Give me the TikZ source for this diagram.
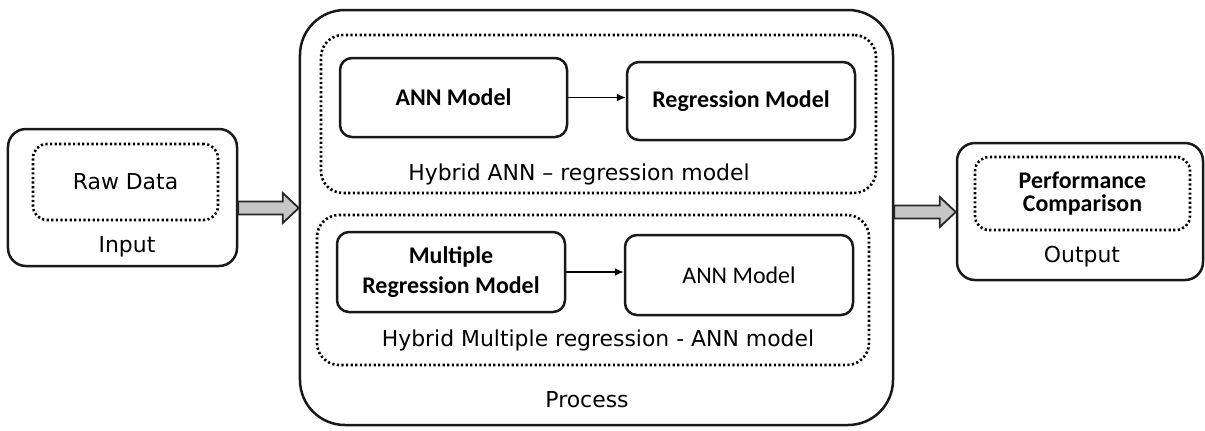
\documentclass[tikz,border=0pt]{standalone}
\usepackage{fontspec}
\setmainfont{DejaVu Sans}
\newfontfamily\calibfont{Carlito}
\usetikzlibrary{calc,arrows.meta}
\begin{document}
\begin{tikzpicture}[x=1bp,y=-1bp,
  solidbox/.style={draw=black!90, line width=2.5bp, rounded corners=#1, inner sep=0pt},
  solidbox/.default=12bp,
  dotbox/.style={draw=black, line width=2.6bp, dash pattern=on 2.2bp off 2.4bp, rounded corners=#1, inner sep=0pt},
  dotbox/.default=20bp,
  plain/.style={font=\fontsize{22}{26}\selectfont, inner sep=0pt},
  model/.style={font=\calibfont\bfseries\fontsize{24}{29}\selectfont, align=center},
  link/.style={draw=black, line width=1.4bp, -{Latex[length=9bp,width=8bp]}},
  blockarrow/.style={draw=black!85, line width=1.8bp, fill=gray!45, line join=miter}
]
\useasboundingbox[fill=white] (0,0) rectangle (1205,430);

% Input
\node[solidbox=18bp, minimum width=229bp, minimum height=137bp] (input) at (122.5,197.5) {};
\node[dotbox=14bp, minimum width=185bp, minimum height=76bp, plain] (raw) at (125.5,182) {Raw Data};
\node[plain] (inlabel) at (127,247) {Input};

% Process
\node[solidbox=45bp, minimum width=593bp, minimum height=415bp] (process) at (596.5,217.5) {};
\node[dotbox=22bp, minimum width=555bp, minimum height=158bp] (hybA) at (598.5,114) {};
\node[dotbox=22bp, minimum width=552bp, minimum height=150bp] (hybB) at (593,290) {};
\node[solidbox, minimum width=227bp, minimum height=79bp, model] (ann1) at (453.5,97.5) {ANN Model};
\node[solidbox, minimum width=228bp, minimum height=78bp, model] (reg1) at (741,101) {Regression Model};
\node[plain] (hybAl) at (579,174) {Hybrid ANN -- regression model};
\node[solidbox, minimum width=228bp, minimum height=80bp, model, font=\calibfont\bfseries\fontsize{24}{30}\selectfont] (mrm) at (451,272) {Multiple\\Regression Model};
\node[solidbox, minimum width=228bp, minimum height=80bp, model, font=\calibfont\fontsize{24}{29}\selectfont] (ann2) at (739,275) {ANN Model};
\node[plain] (hybBl) at (598,340) {Hybrid Multiple regression - ANN model};
\node[plain] (proclabel) at (587,400) {Process};

% Output
\node[solidbox=18bp, minimum width=246bp, minimum height=137bp] (output) at (1080,211.5) {};
\node[dotbox=14bp, minimum width=215bp, minimum height=73bp, model, font=\calibfont\bfseries\fontsize{24}{23}\selectfont] (perf) at (1082.5,193.5) {Performance\\Comparison};
\node[plain] (outlabel) at (1082,257) {Output};

% thin arrows
\draw[link] (ann1.east) -- (ann1.east -| reg1.west);
\draw[link] (mrm.east) -- (mrm.east -| ann2.west);

% block arrows
\coordinate (ya) at (0,208);
\coordinate (yb) at (0,212);
\draw[blockarrow] ($(input.east|-ya)+(0,-6.5)$) -- ($(process.west|-ya)+(-16,-6.5)$) -- ($(process.west|-ya)+(-16,-15)$) -- (process.west|-ya) -- ($(process.west|-ya)+(-16,15)$) -- ($(process.west|-ya)+(-16,6.5)$) -- ($(input.east|-ya)+(0,6.5)$) -- cycle;
\draw[blockarrow] ($(process.east|-yb)+(0,-6.5)$) -- ($(output.west|-yb)+(-16,-6.5)$) -- ($(output.west|-yb)+(-16,-15)$) -- (output.west|-yb) -- ($(output.west|-yb)+(-16,15)$) -- ($(output.west|-yb)+(-16,6.5)$) -- ($(process.east|-yb)+(0,6.5)$) -- cycle;
\end{tikzpicture}
\end{document}
